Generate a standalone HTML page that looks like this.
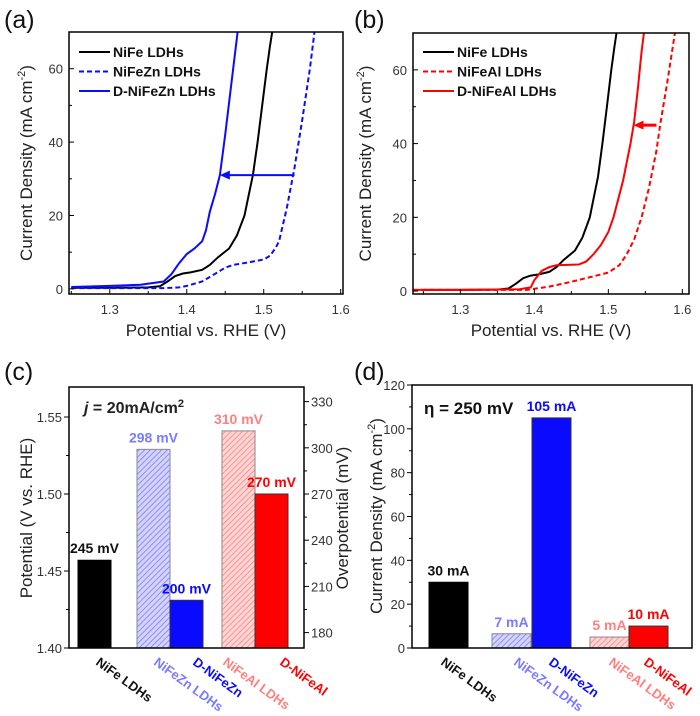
<!DOCTYPE html>
<html><head><meta charset="utf-8"><style>
html,body{margin:0;padding:0;background:#fff}
svg{display:block;font-family:"Liberation Sans",Arial,sans-serif}
</style></head><body>
<svg id="fig" width="700" height="716" viewBox="0 0 700 716" xmlns="http://www.w3.org/2000/svg">
<defs>
<pattern id="hatchBlue" patternUnits="userSpaceOnUse" width="4" height="4" patternTransform="rotate(45)">
<rect width="4" height="4" fill="#d4d4ff"/><line x1="0" y1="0" x2="0" y2="4" stroke="#7a7aff" stroke-width="1.6"/></pattern>
<pattern id="hatchRed" patternUnits="userSpaceOnUse" width="4" height="4" patternTransform="rotate(45)">
<rect width="4" height="4" fill="#ffd6d6"/><line x1="0" y1="0" x2="0" y2="4" stroke="#ff7f7f" stroke-width="1.6"/></pattern>
</defs>
</svg>
<script>
// ---- data ----
const aNiFeX=[1.25,1.30,1.35,1.365,1.375,1.385,1.395,1.405,1.42,1.43,1.44,1.455,1.465,1.475,1.48,1.486,1.492,1.498,1.504,1.508,1.511];
const aNiFeY=[0.3,0.3,0.4,0.7,2,3.5,4.2,4.5,5.2,6.5,8.5,11,14.5,20,25,31,40,50,60,66,70];
const aZnX=[1.25,1.30,1.37,1.39,1.40,1.42,1.44,1.45,1.46,1.48,1.50,1.508,1.515,1.52,1.53,1.54,1.55,1.56,1.566];
const aZnY=[0.2,0.2,0.2,0.4,0.8,2,4.5,5.8,6.5,7.2,8,9,11,13,22,33,46,60,70];
const aDZnX=[1.25,1.30,1.34,1.37,1.38,1.39,1.40,1.41,1.42,1.425,1.43,1.437,1.443,1.45,1.458,1.466];
const aDZnY=[0.5,0.8,1.1,2,4,7,9.5,11,13,16,21,26,31,42,56,70];
const bNiFeX=aNiFeX, bNiFeY=aNiFeY;
const bAlX=[1.236,1.30,1.39,1.42,1.45,1.48,1.50,1.515,1.525,1.535,1.545,1.555,1.565,1.57,1.58,1.59];
const bAlY=[0.3,0.3,0.3,1.2,2.5,4,5,7,10,14,20,28,38,45,57,70];
const bDAlX=[1.236,1.30,1.38,1.395,1.40,1.41,1.42,1.43,1.46,1.47,1.48,1.49,1.50,1.507,1.52,1.53,1.535,1.54,1.545,1.548];
const bDAlY=[0.3,0.3,0.5,1,3,5.5,6.5,7,7.2,8,10,12.5,16,20,30,40,46,55,65,70];
const cCats=["NiFe LDHs","NiFeZn LDHs","D-NiFeZn","NiFeAl LDHs","D-NiFeAl"];
const cVals=[1.457,1.529,1.431,1.541,1.500];
const cLabels=["245 mV","298 mV","200 mV","310 mV","270 mV"];
const dVals=[30,6.5,105,5,10];
const dLabels=["30 mA","7 mA","105 mA","5 mA","10 mA"];
const yTicksA=[0,20,40,60];
const xTicks=[1.3,1.4,1.5,1.6];
const cTicksL=[1.40,1.45,1.50,1.55];
const cTicksR=[180,210,240,270,300,330];
const dTicks=[0,20,40,60,80,100,120];

const NS="http://www.w3.org/2000/svg";
const svg=document.getElementById('fig');
function el(tag,attrs,parent,txt){const e=document.createElementNS(NS,tag);for(const k in attrs)e.setAttribute(k,attrs[k]);if(txt!==undefined)e.textContent=txt;(parent||svg).appendChild(e);return e;}
const BLUE="#0a0aff",RED="#ff0000",LBLUE="#7a7aff",LRED="#ff7f7f";

function text(x,y,s,size,opts,nm){opts=opts||{};const t=el('text',Object.assign({x:x,y:y,'font-size':size,fill:opts.fill||'#222','text-anchor':opts.anchor||'middle','font-weight':opts.bold?'bold':'normal'},opts.transform?{transform:opts.transform}:{}),svg,s);

return t;}

function linePanel(p){
 const X=v=>p.l+(v-p.x0)/(p.x1-p.x0)*(p.r-p.l);
 const Y=v=>p.b-(v-p.y0)/(p.y1-p.y0)*(p.b-p.t);
 const g=el('g',{});  
 const cp='clip'+p.name;const c=el('clipPath',{id:cp},g);el('rect',{x:p.l,y:p.t,width:p.r-p.l,height:p.b-p.t},c);
 p.series.forEach(s=>{const d=s.x.map((v,i)=>(i?'L':'M')+X(v).toFixed(1)+','+Y(s.y[i]).toFixed(1)).join('');
  const e=el('path',{d:d,fill:'none',stroke:s.c,'stroke-width':2,'stroke-dasharray':s.dash?'5,3':'none','clip-path':'url(#'+cp+')'},g);
  
  });
 // arrow
 const ax1=X(p.arrow[0]),ax2=X(p.arrow[1]),ay=Y(p.arrow[2]);
 const ar=el('g',{},g);
 el('line',{x1:ax1,y1:ay,x2:ax2+8,y2:ay,stroke:p.arrow[3],'stroke-width':p.arrow[4]},ar);
 el('polygon',{points:`${ax2},${ay} ${ax2+10},${ay-4.5} ${ax2+10},${ay+4.5}`,fill:p.arrow[3]},ar);
 el('rect',{x:p.l,y:p.t,width:p.r-p.l,height:p.b-p.t,fill:'none',stroke:'#000','stroke-width':1.5},g);
 xTicks.forEach(v=>{const x=X(v);el('line',{x1:x,y1:p.b,x2:x,y2:p.b-5,stroke:'#000'},g);text(x,p.b+20,v.toFixed(1),13,{fill:'#333'},'x-tick-label');});
 [1.25,1.35,1.45,1.55].forEach(v=>{const x=X(v);if(x>p.l)el('line',{x1:x,y1:p.b,x2:x,y2:p.b-3,stroke:'#000'},g);});
 yTicksA.forEach(v=>{const y=Y(v);el('line',{x1:p.l,y1:y,x2:p.l+5,y2:y,stroke:'#000'},g);text(p.l-6,y+5,String(v),13,{fill:'#333',anchor:'end'},'y-tick-label');});
 [10,30,50,70].forEach(v=>{const y=Y(v);if(y>p.t)el('line',{x1:p.l,y1:y,x2:p.l+3,y2:y,stroke:'#000'},g);});
 // legend
 p.series.forEach((s,i)=>{const y=52+i*19.5;const lg=el('g',{},g);
  el('line',{x1:p.l+10,y1:y,x2:p.l+41,y2:y,stroke:s.c,'stroke-width':2,'stroke-dasharray':s.dash?'5,3':'none'},lg);
  el('text',{x:p.l+44,y:y+5,'font-size':14,'font-weight':'bold',fill:'#111'},lg,s.label);});
 text((p.l+p.r)/2,p.b+42,'Potential vs. RHE (V)',17,{fill:'#222'},'x-axis-title');
 const yt=el('text',{x:0,y:0,'font-size':17,fill:'#222','text-anchor':'middle',transform:`translate(${p.ytx},${(p.t+p.b)/2}) rotate(-90)`},svg);
 
 yt.innerHTML='Current Density (mA cm<tspan dy="-7" font-size="11">-2</tspan><tspan dy="7">)</tspan>';
}
linePanel({name:'panel-a',l:69,r:343,t:32,b:294,x0:1.247,x1:1.603,y0:-1.4,y1:70,ytx:32,
 series:[{x:aNiFeX,y:aNiFeY,c:'#000',label:'NiFe LDHs',nm:'nife-curve'},{x:aZnX,y:aZnY,c:BLUE,dash:1,label:'NiFeZn LDHs',nm:'nifezn-curve'},{x:aDZnX,y:aDZnY,c:BLUE,label:'D-NiFeZn LDHs',nm:'d-nifezn-curve'}],
 arrow:[1.54,1.443,31,BLUE,2]});
linePanel({name:'panel-b',l:413,r:689,t:33,b:294,x0:1.236,x1:1.609,y0:-0.8,y1:70,ytx:371,
 series:[{x:bNiFeX,y:bNiFeY,c:'#000',label:'NiFe LDHs',nm:'nife-curve'},{x:bAlX,y:bAlY,c:RED,dash:1,label:'NiFeAl LDHs',nm:'nifeal-curve'},{x:bDAlX,y:bDAlY,c:RED,label:'D-NiFeAl LDHs',nm:'d-nifeal-curve'}],
 arrow:[1.565,1.534,45,RED,3]});

// panel labels
[['(a)',4,28],['(b)',354,28],['(c)',4,380],['(d)',354,380]].forEach(a=>{const t=text(a[1],a[2],a[0],25,{anchor:'start',fill:'#111'},'panel-label');});

const fills=[{f:'#000',s:'#000'},{f:'url(#hatchBlue)',s:'#888'},{f:BLUE,s:'#333'},{f:'url(#hatchRed)',s:'#888'},{f:RED,s:'#333'}];
const lblColors=['#111',LBLUE,BLUE,LRED,RED];
function barPanel(p){
 const Y=v=>p.b-(v-p.y0)/(p.y1-p.y0)*(p.b-p.t);
 const g=el('g',{});
 p.vals.forEach((v,i)=>{const x=p.bx[i];const r=el('rect',{x:x,y:Y(v),width:p.bw,height:p.b-Y(v),fill:fills[i].f,stroke:fills[i].s,'stroke-width':1},g);
  
  
  text(x+p.bw/2,Y(v)-7,p.labels[i],14,{bold:1,fill:lblColors[i]},'bar-value-label');
  text(p.cx[i],p.b+16,cCats[i],13,{bold:1,fill:lblColors[i],anchor:'start',transform:`rotate(36 ${p.cx[i]} ${p.b+16})`},'category-label');});
 el('rect',{x:p.l,y:p.t,width:p.r-p.l,height:p.b-p.t,fill:'none',stroke:'#000','stroke-width':1.5},g);
 p.ticks.forEach(v=>{const y=Y(v);el('line',{x1:p.l,y1:y,x2:p.l-5,y2:y,stroke:'#000'},g);text(p.l-7,y+5,p.fmt(v),13,{fill:'#333',anchor:'end'},'y-tick-label');});
 p.minor.forEach(v=>{const y=Y(v);el('line',{x1:p.l,y1:y,x2:p.l-3,y2:y,stroke:'#000'},g);});
 return Y;
}
barPanel({name:'panel-c',l:69,r:304,t:387,b:648,y0:1.40,y1:1.5695,vals:cVals,labels:cLabels,bx:[78,137,170,222,255],bw:33,
 cx:[95,153,192,222,279],ticks:cTicksL,fmt:v=>v.toFixed(2),minor:[1.425,1.475,1.525]});
// right axis of (c): overpotential = (V-1.23)*1000
(function(){const Yc=v=>648-((v/1000+1.23)-1.40)/(0.1695)*(648-387);
 cTicksR.forEach(v=>{const y=Yc(v);el('line',{x1:304,y1:y,x2:309,y2:y,stroke:'#000'});text(311,y+5,String(v),13,{fill:'#333',anchor:'start'},'right-tick-label');});
 [195,225,255,285,315].forEach(v=>{const y=Yc(v);el('line',{x1:304,y1:y,x2:307,y2:y,stroke:'#000'});});})();
text(84,413,'',16,{},'condition-label').innerHTML='<tspan font-style="italic" font-weight="bold">j</tspan><tspan font-weight="bold"> = 20mA/cm</tspan><tspan font-weight="bold" font-size="11" dy="-6">2</tspan>';
svg.lastChild.setAttribute('text-anchor','start');
text(0,0,'Potential (V vs. RHE)',17,{transform:'translate(32,518) rotate(-90)'},'y-axis-title');
text(0,0,'Overpotential (mV)',17,{transform:'translate(348,518) rotate(-90)'},'right-axis-title');

barPanel({name:'panel-d',l:412,r:692,t:385,b:648,y0:0,y1:120,vals:dVals,labels:dLabels,bx:[429,492,532,590,629],bw:39,
 cx:[440,513,548,608,643],ticks:dTicks,fmt:v=>String(v),minor:[10,30,50,70,90,110]});
const dt=text(424,414,'η = 250 mV',17,{bold:1,anchor:'start',fill:'#111'},'condition-label');
const yd=el('text',{x:0,y:0,'font-size':17,fill:'#222','text-anchor':'middle',transform:'translate(382,516) rotate(-90)'});

yd.innerHTML='Current Density (mA cm<tspan dy="-7" font-size="11">-2</tspan><tspan dy="7">)</tspan>';
</script>
</body></html>
